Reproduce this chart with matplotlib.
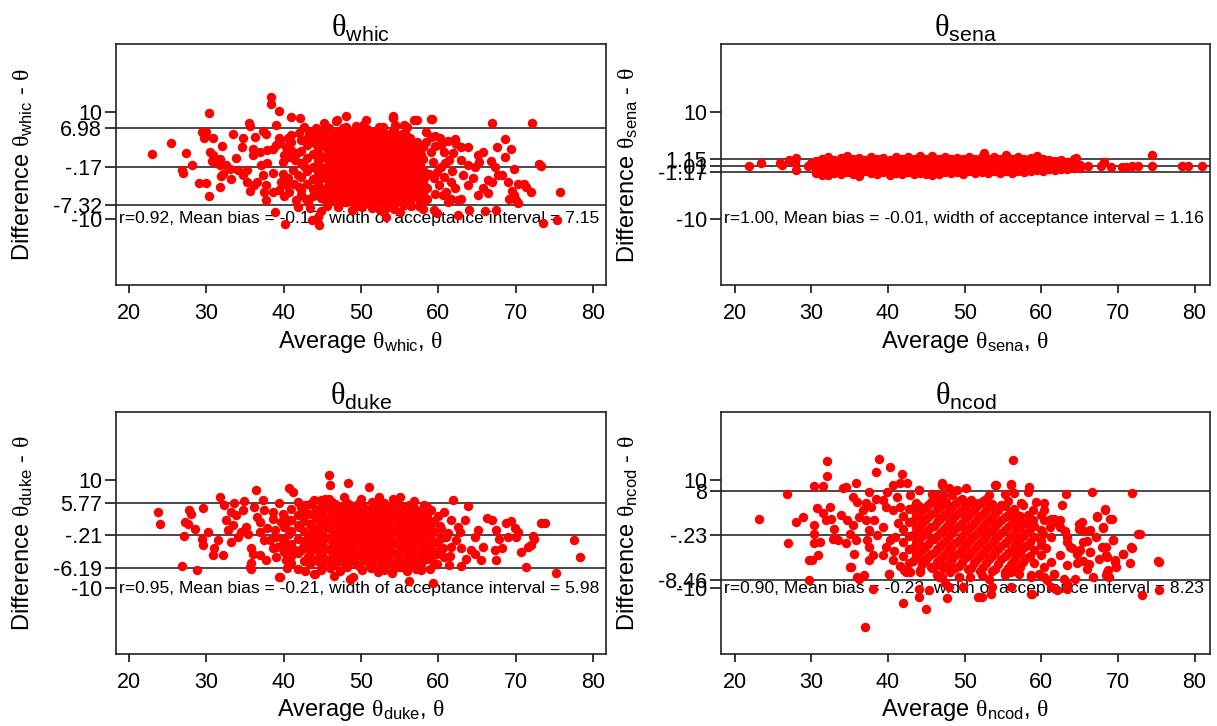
import matplotlib
matplotlib.use("Agg")
import matplotlib.pyplot as plt
import matplotlib.transforms as mtransforms
import numpy as np

plt.rcParams["font.family"] = ["Liberation Sans", "DejaVu Sans"]
plt.rcParams["mathtext.fontset"] = "custom"
plt.rcParams["mathtext.rm"] = "Liberation Sans"
plt.rcParams["mathtext.it"] = "Liberation Sans:italic"
plt.rcParams["mathtext.bf"] = "Liberation Sans:bold"
plt.rcParams["mathtext.sf"] = "Liberation Serif"

# ---- summary statistics per method ----
methods = ["whic", "sena", "duke", "ncod"]
r_values = [0.92, 1.00, 0.95, 0.90]
mean_bias = [-0.17, -0.01, -0.21, -0.23]
acceptance_width = [7.15, 1.16, 5.98, 8.23]
upper_limits = [6.98, 1.15, 5.77, 8.00]
lower_limits = [-7.32, -1.17, -6.19, -8.46]
ytick_labels = [
    ["10", "6.98", "-.17", "-7.32", "-10"],
    ["10", "1.15", "-.01", "-1.17", "-10"],
    ["10", "5.77", "-.21", "-6.19", "-10"],
    ["10", "8", "-.23", "-8.46", "-10"],
]
xtick_values = [20, 30, 40, 50, 60, 70, 80]

# ---- (average, difference) pairs: scattered points ----
whic_points = [
    (22.9, 2.2), (25.4, 4.3), (27.4, 2.4), (26.9, -0.9), (27.0, -1.3), (28.2, 0.1), (29.0, -3.3),
    (29.9, -3.2), (29.4, 6.3), (30.0, 6.3), (30.4, 9.8), (29.7, 5.1), (30.9, 5.1), (30.5, 2.5),
    (30.8, 1.9), (30.7, 0.9), (31.0, 0.6), (31.8, 1.2), (32.0, 3.7), (31.7, 0.1), (32.1, -1.5),
    (31.9, -1.9), (31.7, -4.0), (30.4, -5.8), (33.2, -2.5), (33.4, 6.0), (34.7, 5.1), (34.6, 3.5),
    (33.8, 1.5), (32.5, 0.1), (33.0, -0.6), (34.1, -0.8), (34.7, -1.8), (35.3, -0.8), (35.2, -3.0),
    (36.2, -3.7), (35.6, -4.8), (35.5, 8.0), (35.7, 7.4), (36.3, 5.4), (37.3, 6.5), (37.7, 5.9),
    (36.0, 3.2), (36.9, 2.6), (36.0, 2.0), (37.9, 2.9), (38.6, 3.2), (39.0, 3.9), (37.1, 0.1),
    (37.9, 0.4), (37.3, -1.8), (38.6, -1.3), (36.6, -3.0), (37.7, -3.7), (37.5, -4.9), (38.6, -4.9),
    (37.7, -6.5), (38.9, -8.7), (38.4, 12.9), (38.4, 11.5), (39.4, 10.2), (39.0, 7.7), (39.4, 5.2),
    (39.5, 4.2), (41.0, 9.2), (42.1, 9.0), (41.0, 5.7), (41.0, 4.5), (40.3, 3.5), (40.1, 2.0),
    (39.9, 0.7), (40.7, 1.7), (39.9, -1.5), (39.7, -3.0), (40.3, -3.7), (40.7, -5.0), (39.4, -4.6),
    (40.2, -11.0), (41.6, -6.5), (41.8, -7.7), (42.2, -5.5), (43.1, -6.8), (44.6, -11.2),
    (44.4, -9.6), (43.7, -10.2), (44.8, -8.6), (43.3, 6.4), (43.1, 5.4), (44.2, 7.0), (44.6, 6.3),
    (46.8, 8.4), (48.1, 9.3), (46.9, 8.5), (50.3, 7.6), (52.3, 7.2), (52.8, 7.2), (54.2, 9.4),
    (54.2, 8.9), (54.4, 7.7), (55.6, 7.6), (56.0, 7.2), (57.2, 8.5), (59.2, 8.8), (43.7, 6.2),
    (47.0, -7.8), (47.6, -6.9), (48.8, -8.3), (49.2, -7.8), (50.1, -7.8), (52.5, -8.3), (53.2, -8.0),
    (53.3, -9.6), (54.3, -8.1), (55.8, -7.3), (56.5, -7.6), (57.5, -7.5), (58.0, -8.2), (58.0, -4.7),
    (56.9, 8.5), (59.0, 8.7), (67.0, 8.1), (72.1, 8.0), (59.6, 5.6), (62.2, 5.0), (62.9, 3.5),
    (63.8, 3.5), (68.6, 5.0), (67.6, 3.5), (69.4, 3.2), (68.6, 1.7), (73.1, 0.3), (73.3, 0.0),
    (69.8, -0.6), (65.1, 2.0), (65.8, 2.6), (65.3, 0.7), (66.8, 0.9), (67.3, -0.2), (68.3, -1.7),
    (69.0, -3.0), (70.3, -3.5), (71.1, -3.5), (71.4, -4.0), (72.0, -5.0), (69.6, -4.8), (69.8, -5.5),
    (69.2, -6.2), (70.1, -6.5), (70.3, -7.0), (75.7, -4.9), (73.5, -10.7), (75.4, -10.2),
    (66.0, -8.5), (67.5, -8.3), (64.0, -8.3), (62.5, -9.3), (61.3, -6.8), (59.5, -8.3), (59.9, -9.0),
    (55.6, -7.4), (66.4, -2.7), (67.0, -3.0), (67.7, -1.8), (65.8, -4.3), (66.4, -5.2), (65.1, -5.5),
    (62.9, -6.2), (62.5, -6.5), (63.8, -3.7), (64.5, -2.4), (63.2, -1.8), (61.6, -3.0), (60.4, 3.9),
    (60.8, 2.6), (61.9, 2.3), (61.4, 1.0), (62.9, 1.0), (63.8, 0.1), (64.7, -0.2), (59.1, 2.6),
    (59.3, 0.7), (59.9, -1.2), (60.8, -2.1), (60.1, -3.7), (61.0, -4.9), (61.6, -6.2), (57.3, 4.5),
    (57.8, 2.0), (57.6, 0.1), (58.2, -2.4), (58.6, -4.3), (58.6, -6.2), (57.8, -7.1),
    (40.5, -2.3), (41.2, -0.8), (41.5, 1.0), (40.9, 3.0), (42.0, 6.2), (42.6, 7.3), (41.3, -3.4),
    (42.0, -4.0), (41.7, 2.3), (42.9, -6.2), (43.4, -8.0), (40.0, -5.8), (40.6, 5.1), (41.9, -1.8),
    (42.6, 0.0), (58.4, 4.4), (59.0, 5.3), (59.6, 3.6), (60.3, -0.2), (60.9, 0.5), (59.4, -2.4),
    (60.6, -5.6), (61.8, -1.1), (62.3, 4.0), (58.8, -1.5), (59.6, -5.3), (60.2, 5.2), (61.2, 4.7),
    (62.2, -4.2), (58.4, 6.3), (45.6, -7.6), (51.4, -8.0), (55.0, -8.8), (50.6, 8.6), (45.2, 8.0),
]
# dense centre of the cloud: (average, [differences])
whic_core = [
    (42.3, [-4.6, -2.2, 0.4, 2.7, 4.9]),
    (43.0, [-3.5, -1.0, 1.5, 3.8]),
    (43.8, [-5.8, -4.4, -2.6, -0.3, 2.1, 4.4, 5.9]),
    (44.5, [-3.4, -1.4, 0.8, 3.1, 5.2]),
    (45.2, [-6.3, -4.9, -2.2, -0.6, 1.6, 3.9, 6.1]),
    (45.9, [-5.5, -3.6, -1.3, 0.5, 2.4, 4.6, 7.0]),
    (46.6, [-6.6, -4.4, -2.5, -0.2, 1.4, 3.3, 5.4]),
    (47.3, [-5.5, -3.3, -1.5, 0.6, 2.2, 4.1, 6.3]),
    (48.0, [-6.9, -4.4, -2.3, -0.6, 1.3, 3.2, 5.1, 7.3]),
    (48.7, [-5.7, -3.6, -1.6, 0.3, 2.4, 4.2, 6.2]),
    (49.4, [-6.5, -4.6, -2.6, -0.8, 1.2, 3.3, 5.3, 7.5]),
    (50.1, [-5.5, -3.5, -1.7, 0.2, 2.1, 4.0, 6.0]),
    (50.8, [-7.1, -4.7, -2.7, -0.9, 1.1, 3.1, 5.1, 6.8]),
    (51.5, [-5.9, -3.8, -1.8, 0.4, 2.3, 4.2, 6.3]),
    (52.2, [-6.8, -4.7, -2.8, -0.7, 1.3, 3.2, 5.3]),
    (52.9, [-5.6, -3.7, -1.6, 0.3, 2.4, 4.3, 6.4]),
    (53.6, [-7.0, -4.6, -2.6, -0.5, 1.4, 3.3, 5.2]),
    (54.3, [-6.0, -3.7, -1.7, 0.4, 2.3, 4.4, 6.6]),
    (55.0, [-6.8, -4.8, -2.8, -0.8, 1.2, 3.2, 5.3]),
    (55.7, [-5.7, -3.6, -1.5, 0.5, 2.3, 4.1, 6.2]),
    (56.4, [-6.6, -4.5, -2.6, -0.4, 1.4, 3.2, 5.1]),
    (57.1, [-5.5, -3.4, -1.5, 0.8, 2.8]),
    (58.0, [-5.2, -3.3, -0.9, 1.3, 3.5]),
    (44.15, [-5.1, -2.4, -0.4, 1.9, 4.0]),
    (44.85, [-6.0, -4.2, -2.3, -0.3, 1.8, 4.2, 6.0]),
    (45.55, [-4.5, -2.5, -0.3, 1.5, 3.4, 5.3]),
    (46.25, [-6.2, -4.5, -2.4, -0.4, 1.5, 3.6, 5.6]),
    (46.95, [-5.3, -3.4, -1.3, 0.7, 2.4, 4.4, 6.3]),
    (47.65, [-6.4, -4.4, -2.4, -0.5, 1.4, 3.3, 5.2, 7.0]),
    (48.35, [-5.4, -3.4, -1.4, 0.5, 2.3, 4.1, 6.1]),
    (49.05, [-6.6, -4.5, -2.5, -0.6, 1.4, 3.3, 5.2]),
    (49.75, [-5.6, -3.7, -1.7, 0.3, 2.2, 4.2, 6.3]),
    (50.45, [-6.4, -4.5, -2.5, -0.6, 1.4, 3.2, 5.0]),
    (51.15, [-5.7, -3.8, -1.9, 0.1, 2.1, 4.1, 6.0]),
    (51.85, [-6.8, -4.7, -2.8, -0.8, 1.3, 3.3, 5.2]),
    (52.55, [-5.8, -3.7, -1.7, 0.3, 2.3, 4.2, 6.0]),
    (53.25, [-6.6, -4.6, -2.6, -0.6, 1.3, 3.3, 5.3]),
    (53.95, [-5.6, -3.6, -1.6, 0.4, 2.4, 4.3, 6.2]),
    (54.65, [-6.6, -4.6, -2.7, -0.6, 1.3, 3.3, 5.2]),
    (55.35, [-5.7, -3.7, -1.7, 0.3, 2.2, 4.2, 6.0]),
    (56.05, [-6.5, -4.6, -2.6, -0.6, 1.3, 3.2, 5.0]),
    (56.75, [-5.4, -3.5, -1.5, 0.4, 2.2, 4.0]),
    (57.5, [-6.2, -4.4, -2.4, -0.4, 1.7, 3.8]),
]

sena_points = [
    (21.9, -0.1), (23.4, 0.5), (25.9, 0.5), (26.2, 0.05), (27.1, 1.1), (28.0, 1.5), (27.8, 0.4),
    (28.0, -0.8), (29.5, -0.1), (30.0, 0.4), (74.5, 1.9), (74.5, -0.1), (78.3, -0.1), (79.1, -0.1),
    (80.9, -0.1), (66.1, -0.15), (67.8, -0.15), (69.1, -0.2), (70.5, -0.2), (71.1, -0.2),
    (71.8, -0.15), (72.6, -0.15), (68.2, 0.7), (64.5, 1.4), (52.5, 2.4),
]
sena_core = [
    (30.6, [0.8, -0.6, -1.3]), (31.4, [1.3, 0.1, -1.0, -1.8]), (32.2, [1.6, 0.5, -0.7, -1.7]),
    (33.0, [1.0, -0.2, -1.3]), (33.8, [1.5, 0.4, -0.8, -1.5]), (34.6, [1.8, 0.8, -0.3, -1.2]),
    (35.4, [1.2, 0.1, -0.9, -1.6]), (36.2, [1.4, 0.5, -0.5, -1.3, -2.0]), (37.0, [1.0, -0.1, -1.1]),
    (37.8, [1.7, 0.6, -0.6, -1.4]), (38.6, [1.2, 0.2, -0.8, -1.6]), (39.4, [1.5, 0.6, -0.4, -1.2]),
    (40.2, [1.1, 0.0, -1.0, -1.7]), (41.0, [1.6, 0.7, -0.3, -1.3]), (41.8, [1.2, 0.2, -0.8, -1.5]),
    (42.6, [1.7, 0.6, -0.4, -1.2]), (43.4, [1.2, 0.1, -0.9, -1.6]), (44.2, [1.8, 0.7, -0.3, -1.3]),
    (45.0, [1.3, 0.3, -0.7, -1.5]), (45.8, [1.8, 0.8, -0.2, -1.2, -1.8]), (46.6, [1.3, 0.2, -0.8, -1.5]),
    (47.4, [1.6, 0.7, -0.3, -1.2]), (48.2, [1.2, 0.2, -0.8, -1.4]), (49.0, [1.5, 0.6, -0.4, -1.2]),
    (49.8, [1.2, 0.1, -0.9, -1.5]), (50.6, [1.7, 0.8, -0.2, -1.1]), (51.4, [1.3, 0.3, -0.7, -1.4]),
    (52.2, [1.6, 0.7, -0.3, -1.2]), (53.0, [1.3, 0.3, -0.7, -1.3]), (53.8, [1.7, 0.8, -0.2, -1.1]),
    (54.6, [1.3, 0.3, -0.7, -1.3]), (55.4, [1.9, 0.8, -0.2, -1.0]), (56.2, [1.2, 0.3, -0.7, -1.3]),
    (57.0, [1.6, 0.7, -0.3, -1.0]), (57.8, [1.2, 0.2, -0.7, -1.2]), (58.6, [1.5, 0.7, -0.3, -1.0]),
    (59.4, [1.8, 0.9, 0.0, -0.8]), (60.2, [1.2, 0.4, -0.5, -1.1]), (61.0, [1.1, 0.1, -0.7]),
    (61.8, [0.8, -0.1, -0.8]), (62.6, [1.0, 0.2, -0.6]), (63.4, [0.7, -0.1, -0.7]),
    (64.2, [1.3, 0.3, -0.4]), (65.0, [0.2, -0.4]),
]

duke_points = [
    (23.8, 4.1), (24.0, 1.9), (26.9, -5.9), (28.8, -6.7), (27.2, 2.3), (27.6, 1.9), (27.7, 4.4),
    (28.0, 3.8), (28.5, 0.9), (29.6, 4.9), (27.1, -0.4), (30.2, 0.4), (29.4, -0.8), (29.6, -2.0),
    (31.8, 6.9), (30.8, -3.9), (32.2, -3.9), (31.0, -2.6), (31.5, -1.1), (32.3, 5.4), (32.5, 2.6),
    (33.2, 4.1), (32.8, 0.8), (33.6, 5.7), (33.8, 3.5), (33.4, 1.7), (33.2, -1.4), (34.1, -0.5),
    (34.9, 6.2), (34.7, 4.4), (35.1, 1.4), (34.5, 0.5), (35.4, 0.1), (35.8, -2.6), (36.0, -3.6),
    (35.6, -6.0), (35.8, -6.4), (35.8, -5.4), (36.4, 8.2), (36.2, 5.1), (36.6, 3.2), (37.3, 6.3),
    (37.5, 4.4), (36.9, 2.3), (37.9, 1.1), (36.9, 0.4), (37.5, -1.1), (36.9, -3.9), (37.7, -4.8),
    (39.0, -4.2), (38.6, -2.6), (39.4, -7.9), (40.7, 8.5), (41.2, 7.9), (39.4, 5.7), (39.9, 3.8),
    (38.6, 2.9), (40.3, 2.0), (40.7, 0.1), (39.0, -0.5), (39.9, -1.7), (40.7, -2.9), (40.3, -4.8),
    (41.0, -5.4), (41.8, 6.0), (42.7, 5.4), (42.5, 3.5), (42.0, 1.4), (43.1, -0.5), (42.5, -2.3),
    (43.1, -4.2), (42.3, -2.9), (44.0, -7.3), (45.9, 10.9), (46.0, 9.1), (48.3, 9.4), (46.5, -7.8),
    (48.6, -8.2), (49.0, -7.9), (43.9, -7.3), (44.8, 6.3), (45.3, 6.5), (51.1, 8.8), (55.1, 6.9),
    (61.9, 6.4), (63.8, 5.2), (59.1, 4.4), (60.8, 4.1), (66.3, 3.0), (67.0, 2.6), (68.8, 2.0),
    (69.4, 2.5), (69.9, 1.1), (70.3, 0.4), (73.3, 2.0), (73.8, 2.0), (77.6, -1.1), (78.4, -4.2),
    (75.2, -7.2), (71.4, -6.0), (72.2, -0.4), (72.4, -0.8), (71.6, -2.3), (70.7, -3.3), (72.0, -2.0),
    (67.5, 0.7), (67.9, -0.8), (68.3, -2.6), (67.3, -3.0), (69.0, -0.5), (70.1, -0.5), (67.5, -4.8),
    (65.5, -4.8), (64.7, -3.6), (65.8, -2.3), (64.7, -0.5), (65.1, 0.7), (63.4, 2.6), (62.5, 1.4),
    (62.9, -2.6), (63.6, -4.5), (64.2, -3.0), (61.4, -5.7), (60.8, -4.2), (61.7, -2.3), (59.9, -3.6),
    (61.0, -0.5), (60.4, 1.0), (59.3, 2.3), (61.7, 2.6), (59.3, -9.1), (56.2, -8.6), (55.2, -6.0),
    (57.8, -6.7), (54.1, -6.0), (51.3, -6.3), (53.0, -5.4), (39.5, -7.9),
    (38.2, -1.0), (38.9, 0.8), (39.2, -2.3), (38.6, 4.2), (39.6, 2.3), (41.4, -3.0), (40.4, -6.2),
    (41.9, -6.5), (42.8, -6.9), (44.8, -6.7), (46.0, -6.3), (47.3, -6.9), (50.1, -6.7), (52.2, -7.0),
    (54.0, -7.2), (55.9, -6.9), (57.1, -6.4), (58.9, -6.5), (59.8, -5.6), (60.6, -2.5), (61.2, 0.3),
    (60.0, 3.3), (58.1, 5.4), (56.8, 6.2), (54.2, 6.5), (52.3, 6.9), (50.0, 6.6), (47.8, 6.8),
    (43.9, 6.3), (42.2, 5.0), (62.3, -1.0), (62.8, 0.5), (61.5, -4.0), (63.0, -5.8),
]
duke_core = [
    (40.0, [-3.2, -0.9, 1.3, 3.1]),
    (41.0, [-4.0, -1.9, 0.6, 2.6, 4.6]),
    (41.8, [-3.4, -0.9, 1.7, 3.6]),
    (42.6, [-5.0, -1.2, 0.6, 2.5, 4.5]),
    (43.4, [-5.6, -3.3, -1.8, 0.3, 1.9, 3.8, 5.6]),
    (44.2, [-4.5, -2.6, -0.8, 1.0, 2.9, 4.7]),
    (45.0, [-5.6, -3.6, -1.6, 0.2, 2.0, 3.8, 5.5]),
    (45.8, [-4.7, -2.7, -0.7, 1.2, 3.0, 4.8, 6.5]),
    (46.6, [-5.7, -3.7, -1.7, 0.3, 2.1, 3.9, 5.6]),
    (47.4, [-4.8, -2.8, -0.8, 1.1, 3.0, 4.8]),
    (48.2, [-6.0, -3.8, -1.8, 0.2, 2.1, 3.9, 5.8]),
    (49.0, [-5.0, -2.8, -0.9, 1.1, 3.0, 4.9]),
    (49.8, [-5.9, -3.9, -1.9, 0.1, 2.0, 3.9, 5.7]),
    (50.6, [-4.9, -2.9, -0.9, 1.1, 2.9, 4.7]),
    (51.4, [-5.7, -3.8, -1.8, 0.2, 2.1, 4.0, 5.9]),
    (52.2, [-4.9, -2.8, -0.8, 1.2, 3.0, 4.9]),
    (53.0, [-6.6, -3.8, -1.9, 0.1, 2.1, 3.9, 5.8]),
    (53.8, [-5.1, -2.9, -0.9, 1.0, 3.0, 4.8]),
    (54.6, [-6.0, -3.9, -1.8, 0.2, 2.1, 3.9, 5.6]),
    (55.4, [-5.0, -2.8, -0.9, 1.2, 3.1, 4.7]),
    (56.2, [-5.8, -3.9, -1.9, 0.0, 2.0, 3.8, 5.4]),
    (57.0, [-4.9, -2.9, -0.9, 1.1, 2.9, 4.6]),
    (57.8, [-5.5, -3.7, -1.7, 0.3, 2.2, 3.9]),
    (58.6, [-4.6, -2.6, -0.6, 1.4, 3.3, 5.1]),
    (59.4, [-5.4, -3.3, -1.4, 0.5, 2.4]),
    (60.2, [-2.6, -0.9, 1.6]),
    (44.6, [-5.1, -3.1, -1.2, 0.6, 2.4, 4.2]),
    (45.4, [-4.6, -2.6, -0.7, 1.1, 2.9, 4.7]),
    (46.2, [-5.2, -3.2, -1.2, 0.7, 2.5, 4.3, 6.0]),
    (47.0, [-4.2, -2.3, -0.3, 1.6, 3.4, 5.2]),
    (47.8, [-5.4, -3.3, -1.3, 0.6, 2.5, 4.3]),
    (48.6, [-4.4, -2.3, -0.4, 1.6, 3.5, 5.4]),
    (49.4, [-5.5, -3.4, -1.4, 0.6, 2.5, 4.4]),
    (50.2, [-4.4, -2.4, -0.4, 1.6, 3.4, 5.3]),
    (51.0, [-5.3, -3.3, -1.3, 0.6, 2.5, 4.4]),
    (51.8, [-4.3, -2.3, -0.3, 1.7, 3.5, 5.4]),
    (52.6, [-5.5, -3.3, -1.4, 0.6, 2.5, 4.4]),
    (53.4, [-4.5, -2.4, -0.4, 1.5, 3.5, 5.3]),
    (54.2, [-5.4, -3.4, -1.4, 0.6, 2.6, 4.4]),
    (55.0, [-4.5, -2.4, -0.4, 1.7, 3.6, 5.2]),
    (55.8, [-5.3, -3.3, -1.4, 0.6, 2.5, 4.3]),
    (56.6, [-4.4, -2.4, -0.4, 1.6, 3.4, 5.0]),
    (57.4, [-5.1, -3.2, -1.2, 0.8, 2.6, 4.3]),
    (58.2, [-4.0, -2.1, -0.1, 1.9, 3.7]),
    (59.0, [-3.8, -1.8, 0.1, 1.9]),
]

ncod_points = [
    (23.2, 2.9), (26.8, 7.5), (27.0, -1.7), (29.7, -4.8), (30.1, -4.7), (30.9, -3.9), (29.7, -8.5),
    (28.0, 2.3), (28.9, 3.2), (32.1, 13.5), (32.0, 10.7), (30.4, 8.9), (31.5, 8.9), (30.7, 4.8),
    (30.4, 1.7), (30.3, 0.1), (30.4, -1.6), (31.1, -1.4), (31.5, 4.0), (32.4, 5.1), (32.6, 2.9),
    (31.9, 2.6), (33.0, 1.0), (32.8, -0.8), (33.5, -1.1), (34.1, 8.5), (34.5, 8.8), (35.8, 9.4),
    (35.4, 6.9), (36.0, 6.0), (36.7, 4.4), (37.1, 5.7), (33.9, 3.5), (34.7, 2.6), (35.4, 1.7),
    (35.0, 0.1), (34.5, -1.7), (35.8, -1.1), (35.6, -3.6), (35.2, -6.0), (36.2, -8.2), (36.9, -7.6),
    (37.0, -17.2), (38.8, 14.0), (38.4, 11.5), (40.3, 12.5), (41.8, 11.1), (37.5, 7.8), (38.4, 6.6),
    (37.8, 5.1), (36.2, 3.2), (37.1, 2.6), (38.2, 2.6), (37.5, 0.7), (38.6, -0.2), (37.3, -1.1),
    (37.5, -2.3), (38.0, -3.9), (37.5, -4.8), (38.1, -10.2), (42.0, -12.8), (44.0, -11.6),
    (45.0, -13.8), (40.1, -7.3), (39.3, -3.9), (40.6, -4.8), (39.7, -2.3), (40.3, -1.1), (39.3, 1.3),
    (39.3, 6.3), (39.9, 7.8), (40.6, 9.1), (41.6, 9.4), (39.7, 5.1), (40.6, 4.4), (41.6, 5.1),
    (42.1, -6.7), (42.9, -7.0), (44.2, -6.7), (45.7, -6.3), (46.6, -7.9), (47.4, -9.1), (42.9, 7.2),
    (44.0, 8.2), (45.7, 7.5), (47.0, 9.1), (47.9, 8.5), (46.8, 6.6), (48.1, -7.0), (49.2, -7.9),
    (45.4, -10.3), (47.7, -11.8), (56.3, 13.8), (54.1, 9.1), (56.1, 9.3), (58.4, 8.8), (58.2, 7.8),
    (56.5, 7.7), (66.6, 7.8), (71.8, 7.7), (63.2, 7.4), (62.7, 5.5), (60.4, 5.8), (58.9, 4.4),
    (58.2, 3.5), (60.0, 3.5), (60.4, 2.6), (61.7, 2.9), (62.5, 2.6), (68.3, 4.6), (67.2, 3.3),
    (69.0, 2.9), (68.1, 1.2), (65.3, 2.3), (64.9, 1.0), (66.4, 0.7), (67.1, -0.5), (69.4, -1.0),
    (72.9, 0.0), (71.8, -2.5), (70.7, -3.6), (71.6, -5.3), (75.4, -5.1), (73.2, -11.2), (75.4, -10.3),
    (67.9, -2.3), (68.6, -4.2), (69.6, -4.8), (69.8, -6.0), (68.6, -7.0), (68.8, -7.9), (65.5, -1.4),
    (65.1, -3.0), (66.4, -3.3), (66.0, -6.4), (67.5, -4.5), (64.7, -5.4), (63.4, -5.7), (63.0, -8.2),
    (61.7, -7.3), (60.8, -8.5), (63.4, -0.5), (63.8, -2.3), (62.5, -3.9), (61.2, -5.1), (60.4, -6.0),
    (59.7, -7.3), (58.7, -7.9), (58.8, -11.0), (52.3, -11.7), (53.4, -11.1), (62.0, -10.3),
    (63.3, -10.1),
    (61.2, 2.9), (61.8, 2.3), (62.4, 1.4), (63.1, 0.6), (63.4, -1.4), (64.0, -2.6), (64.6, -3.6),
    (64.9, 1.9), (65.6, 0.6), (65.9, -1.2), (66.3, -3.2), (65.5, -4.9), (66.2, -5.6),
    (67.2, 3.2), (68.3, 4.4), (69.2, 2.9), (68.1, 1.4), (69.4, -1.0), (68.5, -2.3), (68.5, -3.9),
    (69.6, -5.1), (70.7, -3.6), (71.7, -2.3), (72.6, 0.1), (75.2, -5.0),
    (44.0, -10.1), (47.9, -9.8), (49.8, -9.8), (53.5, -9.8), (56.0, -9.8), (61.2, -9.8), (63.4, -9.3),
    (51.7, -11.6), (58.6, -11.1),
    (35.0, -6.0), (36.0, -7.9), (40.1, -7.3), (42.3, -7.0), (44.2, -7.0), (46.4, -7.6), (47.0, -7.9),
    (49.2, -7.9), (50.7, -7.9), (52.2, -7.6), (53.2, -8.2), (55.2, -7.6), (56.0, -7.0), (57.1, -7.3),
    (58.6, -7.6), (60.3, -7.9), (61.6, -7.3), (64.4, -8.2), (66.8, -7.9), (68.5, -7.6), (68.7, -6.7),
    (42.5, 9.4), (44.0, 8.1), (47.0, 9.4), (46.6, 7.2), (49.0, 8.1), (50.2, 8.5), (51.3, 5.8),
    (53.9, 9.1), (55.2, 7.5), (56.0, 9.2), (57.3, 5.8),
    (40.9, -0.5), (41.3, 2.1), (40.8, -3.1), (41.5, -5.9), (41.2, 6.8), (60.6, -2.6), (61.3, -0.6),
    (61.1, 1.4), (60.3, 4.4), (59.3, 6.0), (57.6, 5.5), (58.9, 2.7), (59.9, -2.0), (60.2, 0.0),
]
ncod_core = [
    (42.0, [-4.0, -1.5, 1.0, 3.3]),
    (42.8, [-5.3, -2.8, -0.3, 2.2, 4.6]),
    (43.6, [-3.9, -1.4, 1.2, 3.6, 5.8]),
    (44.4, [-5.5, -2.9, -0.4, 2.1, 4.4]),
    (45.2, [-4.3, -1.8, 0.7, 3.1, 5.5]),
    (46.0, [-6.0, -3.4, -0.9, 1.6, 4.0, 6.2]),
    (46.8, [-4.7, -2.2, 0.3, 2.8, 5.0]),
    (47.6, [-5.9, -3.5, -1.1, 1.4, 3.8, 6.0]),
    (48.4, [-4.6, -2.2, 0.3, 2.7, 5.1, 7.2]),
    (49.2, [-5.8, -3.4, -1.0, 1.5, 3.9, 6.1]),
    (50.0, [-4.4, -2.1, 0.4, 2.8, 5.0]),
    (50.8, [-6.3, -3.3, -0.9, 1.6, 4.0, 6.4]),
    (51.6, [-4.6, -2.2, 0.2, 2.7, 5.2]),
    (52.4, [-6.0, -3.4, -1.0, 1.4, 3.8, 6.1]),
    (53.2, [-4.5, -2.1, 0.4, 2.7, 5.0, 7.3]),
    (54.0, [-6.5, -3.3, -0.9, 1.5, 3.9]),
    (54.8, [-4.6, -2.2, 0.3, 2.6, 5.4]),
    (55.6, [-6.2, -3.5, -1.1, 1.3, 3.6, 6.2]),
    (56.4, [-4.8, -2.3, 0.1, 2.5, 4.7]),
    (57.2, [-6.0, -3.3, -0.9, 1.4, 3.3]),
    (58.0, [-4.4, -2.1, 0.3, 2.1]),
    (59.0, [-5.3, -2.9, -0.6, 1.6]),
    (60.0, [-3.8, -1.2, 0.8]),
    (43.2, [-5.0, -2.6, -0.2, 2.4, 4.8]),
    (44.0, [-4.2, -1.6, 0.9, 3.3, 5.2]),
    (44.8, [-5.0, -2.4, 0.0, 2.6, 4.9]),
    (45.6, [-6.0, -3.6, -1.1, 1.4, 3.8, 6.0]),
    (46.4, [-5.2, -2.8, -0.4, 2.2, 4.6]),
    (47.2, [-6.3, -4.0, -1.6, 0.8, 3.3, 5.6, 7.2]),
    (48.0, [-5.3, -2.8, -0.3, 2.1, 4.5]),
    (48.8, [-6.2, -3.9, -1.6, 0.9, 3.3, 5.6]),
    (49.6, [-5.1, -2.7, -0.3, 2.1, 4.5, 6.6]),
    (50.4, [-6.5, -4.0, -1.5, 1.0, 3.4, 5.7]),
    (51.2, [-5.4, -2.8, -0.4, 2.1, 4.5]),
    (52.0, [-6.8, -4.0, -1.6, 0.8, 3.3, 5.7]),
    (52.8, [-5.4, -2.8, -0.4, 2.0, 4.4, 6.6]),
    (53.6, [-6.9, -4.0, -1.6, 0.8, 3.1, 5.6]),
    (54.4, [-5.5, -2.8, -0.4, 2.0, 4.5]),
    (55.2, [-7.0, -4.0, -1.6, 0.8, 3.1, 5.3]),
    (56.0, [-5.5, -3.0, -0.5, 1.9, 4.2]),
    (56.8, [-6.4, -3.8, -1.4, 1.0, 3.5]),
    (57.6, [-5.2, -2.6, -0.3, 2.0]),
    (58.5, [-4.0, -1.4, 0.9]),
]

panel_points = [whic_points, sena_points, duke_points, ncod_points]
panel_cores = [whic_core, sena_core, duke_core, ncod_core]

# ---- layout (figure fractions) and axis ranges ----
axes_rects = [
    [0.0953, 0.607, 0.4026, 0.332],
    [0.5924, 0.607, 0.4018, 0.332],
    [0.0953, 0.099, 0.4026, 0.3333],
    [0.5924, 0.099, 0.4018, 0.3333],
]
x_ranges = [(18.3, 81.7), (18.2, 82.0), (18.3, 81.7), (18.2, 82.0)]
y_ranges = [(-22.5, 22.8), (-22.5, 22.8), (-22.2, 22.6), (-22.2, 22.6)]

RED = "#ff0000"
LINE = "#3a3a3a"

fig = plt.figure(figsize=(12.17, 7.26), dpi=100)

for i, name in enumerate(methods):
    ax = fig.add_axes(axes_rects[i])
    xs = [p[0] for p in panel_points[i]]
    ys = [p[1] for p in panel_points[i]]
    for cx, cys in panel_cores[i]:
        xs.extend([cx] * len(cys))
        ys.extend(cys)
    xs = np.array(xs)
    ys = np.array(ys)

    for v in (upper_limits[i], mean_bias[i], lower_limits[i]):
        ax.axhline(v, color=LINE, lw=1.3, zorder=1)
    ax.scatter(xs, ys, s=46, c=RED, linewidths=0, zorder=3)

    ax.set_xlim(*x_ranges[i])
    ax.set_ylim(*y_ranges[i])
    ax.set_xticks(xtick_values)
    ax.set_yticks([10, upper_limits[i], mean_bias[i], lower_limits[i], -10])
    ax.set_yticklabels(ytick_labels[i])
    ax.tick_params(axis="both", labelsize=15.5, direction="out", width=1.1, colors="black")
    ax.tick_params(axis="y", length=8, pad=2)
    ax.tick_params(axis="x", length=6, pad=7)
    for sp in ax.spines.values():
        sp.set_linewidth(1.2)
        sp.set_color("#222222")

    note = (f"r={r_values[i]:.2f}, Mean bias = {mean_bias[i]:.2f}, "
            f"width of acceptance interval = {acceptance_width[i]:.2f}")
    trans = mtransforms.blended_transform_factory(ax.transAxes, ax.transData)
    ax.text(0.006, -10, note, transform=trans, fontsize=12.6, ha="left", va="center", zorder=2)

    ax.set_title(r"$\mathsf{θ}_{\mathrm{" + name + r"}}$", fontsize=22, pad=5)
    ax.set_ylabel(r"Difference $\mathsf{θ}_{\mathrm{" + name + r"}}$ - $\mathsf{θ}$",
                  fontsize=17, labelpad=13)
    ax.set_xlabel(r"Average $\mathsf{θ}_{\mathrm{" + name + r"}}$, $\mathsf{θ}$",
                  fontsize=17, labelpad=3)

fig.savefig("out.png", dpi=100)
